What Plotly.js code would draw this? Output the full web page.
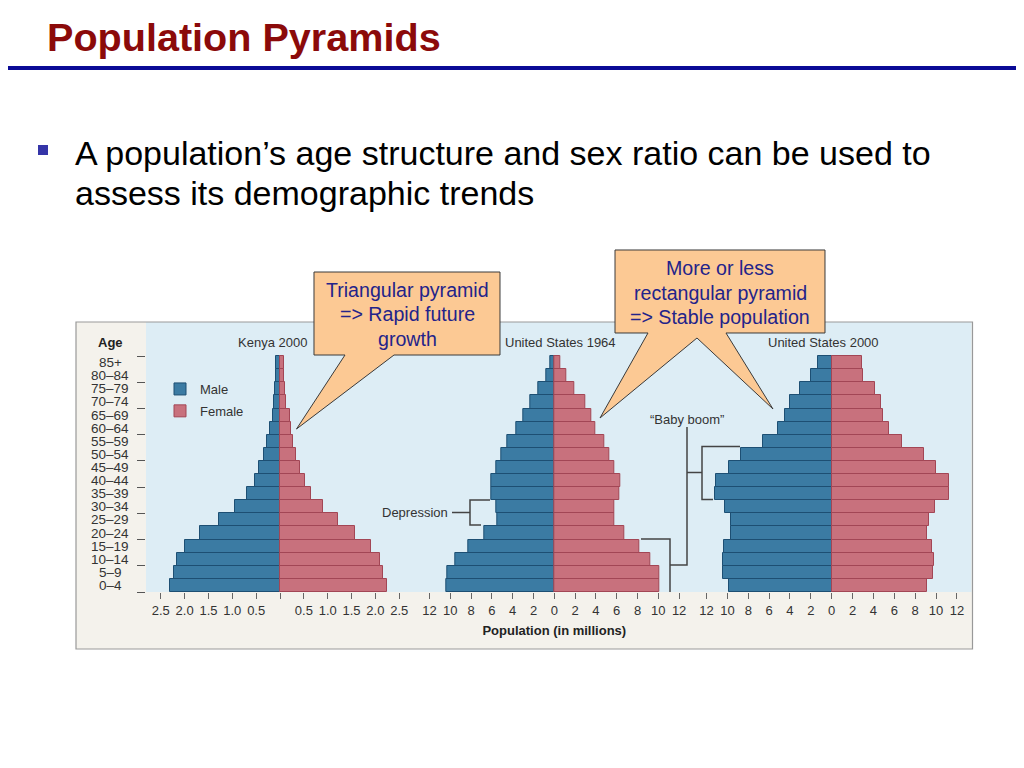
<!DOCTYPE html>
<html>
<head>
<meta charset="utf-8">
<script src="https://cdn.plot.ly/plotly-3.0.1.min.js"></script>
<style>html,body{margin:0;padding:0;background:#fff;}#chart{width:1024px;height:768px;}</style>
</head>
<body>
<div id="chart"></div>
<script>
// ---- data (bottom to top) ----
const ages = ['0–4','5–9','10–14','15–19','20–24','25–29','30–34','35–39','40–44','45–49','50–54','55–59','60–64','65–69','70–74','75–79','80–84','85+'];
const kenyaMale   = [2.31,2.23,2.16,1.99,1.67,1.28,0.95,0.69,0.52,0.43,0.34,0.27,0.22,0.15,0.13,0.10,0.08,0.08];
const kenyaFemale = [2.25,2.15,2.09,1.90,1.58,1.21,0.91,0.65,0.52,0.41,0.33,0.28,0.24,0.20,0.13,0.10,0.08,0.08];
const us1964Male   = [10.35,10.29,9.49,8.27,6.70,5.51,5.61,6.03,6.06,5.58,5.06,4.49,3.62,2.98,2.34,1.54,0.74,0.42];
const us1964Female = [10.10,10.10,9.20,8.17,6.70,5.74,5.74,6.28,6.38,5.77,5.26,4.78,3.97,3.53,2.98,1.92,1.19,0.61];
const us2000Male   = [9.82,10.40,10.46,10.37,9.66,9.70,10.24,11.20,11.10,9.89,8.70,6.56,5.18,4.51,4.00,3.04,1.95,1.31];
const us2000Female = [9.18,9.70,9.82,9.60,9.18,9.31,9.92,11.20,11.20,9.98,8.80,6.75,5.54,4.96,4.74,4.16,2.98,2.88];
const panelTitles = ['Kenya 2000','United States 1964','United States 2000'];
const kenyaTickVals = [-2.5,-2,-1.5,-1,-0.5,0,0.5,1,1.5,2,2.5];
const kenyaTickText = ['2.5','2.0','1.5','1.0','0.5','','0.5','1.0','1.5','2.0','2.5'];
const usTickVals = [-12,-10,-8,-6,-4,-2,0,2,4,6,8,10,12];
const usTickText = ['12','10','8','6','4','2','0','2','4','6','8','10','12'];

// ---- styling ----
const FONT = 'Liberation Sans, Arial, Helvetica, sans-serif';
const MALE = '#3b7ba3', MALE_LINE = '#1d4f73';
const FEMALE = '#c8717d', FEMALE_LINE = '#a24655';
const W = 1024, H = 768;
const X = p => p / W;
const Y = p => 1 - p / H;
const P = pts => pts.map((q, i) => (i ? 'L' : 'M') + X(q[0]).toFixed(5) + ',' + Y(q[1]).toFixed(5)).join(' ');

function pair(male, female, xa, show) {
  return [
    {type:'bar', orientation:'h', y:ages, x:male.map(v => -v), xaxis:xa, yaxis:'y',
     name:'Male', legendgroup:'m', showlegend:show, customdata:male,
     hovertemplate:'%{y}: %{customdata} M<extra>Male</extra>',
     marker:{color:MALE, line:{color:MALE_LINE, width:1}}},
    {type:'bar', orientation:'h', y:ages, x:female, xaxis:xa, yaxis:'y',
     name:'Female', legendgroup:'f', showlegend:show,
     hovertemplate:'%{y}: %{x} M<extra>Female</extra>',
     marker:{color:FEMALE, line:{color:FEMALE_LINE, width:1}}}
  ];
}
const data = [].concat(
  pair(kenyaMale, kenyaFemale, 'x', true),
  pair(us1964Male, us1964Female, 'x2', false),
  pair(us2000Male, us2000Female, 'x3', false)
);

const xBase = {anchor:'y', showgrid:false, zeroline:false, showline:false, ticks:'outside', ticklen:6,
  tickcolor:'#666', tickwidth:1, tickfont:{family:FONT, size:13, color:'#333'}, fixedrange:true};

const annotations = [];
const txt = (text, x, y, size, color, anchor, extra) => annotations.push(Object.assign(
  {text, x:X(x), y:Y(y), xref:'paper', yref:'paper', xanchor:anchor||'center', yanchor:'middle',
   showarrow:false, font:{family:FONT, size, color}}, extra||{}));

// slide text
txt('<b>Population Pyramids</b>', 45, 37, 39.6, '#8b0a0a', 'left');
txt('A population’s age structure and sex ratio can be used to', 73, 153, 34, '#000', 'left');
txt('assess its demographic trends', 73, 193, 34, '#000', 'left');
// panel titles
txt(panelTitles[0], 272, 343, 13, '#333');
txt(panelTitles[1], 560, 343, 13, '#333');
txt(panelTitles[2], 823, 343, 13, '#333');
txt('<b>Age</b>', 110, 343, 13, '#222');
// age labels
ages.forEach(a => annotations.push({text:a, x:X(110), xref:'paper', y:a, yref:'y', xanchor:'center',
  yanchor:'middle', showarrow:false, font:{family:FONT, size:13.5, color:'#333'}}));
// notes
txt('Depression', 450, 512.5, 13, '#333', 'right');
txt('“Baby boom”', 687, 419, 13, '#333');
// callout texts
['Triangular pyramid','=> Rapid future','growth'].forEach((t,i) => txt(t, 407, 290 + i*24.5, 19.6, '#23238a'));
['More or less','rectangular pyramid','=> Stable population'].forEach((t,i) => txt(t, 720, 268 + i*24.5, 19.6, '#23238a'));

const line = (pts, color, w) => ({type:'path', xref:'paper', yref:'paper', path:P(pts), layer:'above',
  line:{color:color||'#444', width:w||1.5}});

const shapes = [
  // slide decorations
  {type:'line', xref:'paper', yref:'paper', x0:X(8), x1:X(1016), y0:Y(68), y1:Y(68), line:{color:'#0a0a96', width:4}},
  {type:'rect', xref:'paper', yref:'paper', x0:X(38), x1:X(48), y0:Y(145), y1:Y(155), fillcolor:'#3535a8', line:{width:0}},
  // figure frame & plot background
  {type:'rect', xref:'paper', yref:'paper', x0:X(76), x1:X(972.5), y0:Y(322), y1:Y(649), fillcolor:'#f4f2ec', line:{width:0}, layer:'below'},
  {type:'rect', xref:'paper', yref:'paper', x0:X(146), x1:X(971.5), y0:Y(322), y1:Y(592), fillcolor:'#ddedf5', line:{width:0}, layer:'below'},
  {type:'rect', xref:'paper', yref:'paper', x0:X(76), x1:X(972.5), y0:Y(322), y1:Y(649), line:{color:'#999', width:1.2}, layer:'below'},
  // depression bracket
  line([[452,512.5],[470,512.5]]),
  line([[490,500],[470,500],[470,525],[481,525]]),
  // 1964 baby-boom bracket
  line([[641,539],[670,539],[670,592]]),
  line([[670,565],[687,565],[687,427]]),
  // 2000 baby-boom bracket
  line([[687,472.5],[702,472.5]]),
  line([[740,446.5],[702,446.5],[702,499.5],[713,499.5]]),
  // callouts
  {type:'path', xref:'paper', yref:'paper', layer:'above', fillcolor:'#fcc994', line:{color:'#3a3a3a', width:1},
   path:P([[314,272],[500,272],[500,355],[394,355],[296.5,429],[345,355],[314,355]]) + ' Z'},
  {type:'path', xref:'paper', yref:'paper', layer:'above', fillcolor:'#fcc994', line:{color:'#3a3a3a', width:1},
   path:P([[615,250],[825,250],[825,333],[726,333],[773,409],[697,338],[600,418],[648,333],[615,333]]) + ' Z'}
];

const layout = {
  width:W, height:H, margin:{l:0, r:0, t:0, b:0},
  paper_bgcolor:'#fff', plot_bgcolor:'rgba(0,0,0,0)',
  font:{family:FONT, color:'#333'},
  barmode:'relative', bargap:0,
  showlegend:true,
  legend:{x:X(160), y:Y(374), xanchor:'left', yanchor:'top', bgcolor:'rgba(0,0,0,0)',
    font:{family:FONT, size:13, color:'#333'}, traceorder:'grouped', tracegroupgap:2, itemwidth:30},
  xaxis: Object.assign({}, xBase, {domain:[X(146), X(414)], range:[-2.81, 2.81], tickvals:kenyaTickVals, ticktext:kenyaTickText}),
  xaxis2: Object.assign({}, xBase, {domain:[X(414.3), X(694.3)], range:[-13.46, 13.46], tickvals:usTickVals, ticktext:usTickText,
    title:{text:'<b>Population (in millions)</b>', font:{family:FONT, size:13, color:'#222'}, standoff:9}}),
  xaxis3: Object.assign({}, xBase, {domain:[X(694), X(969.4)], range:[-13.2, 13.2], tickvals:usTickVals, ticktext:usTickText}),
  yaxis: {anchor:'x', domain:[Y(592), Y(322)], type:'category', categoryorder:'array', categoryarray:ages,
    range:[-0.5, 20.1], showticklabels:false, ticks:'outside', tickson:'boundaries', ticklen:8, tickcolor:'#555',
    showgrid:false, zeroline:false, showline:false, fixedrange:true},
  annotations, shapes
};

Plotly.newPlot('chart', data, layout, {displayModeBar:false, staticPlot:false});
</script>
</body>
</html>
